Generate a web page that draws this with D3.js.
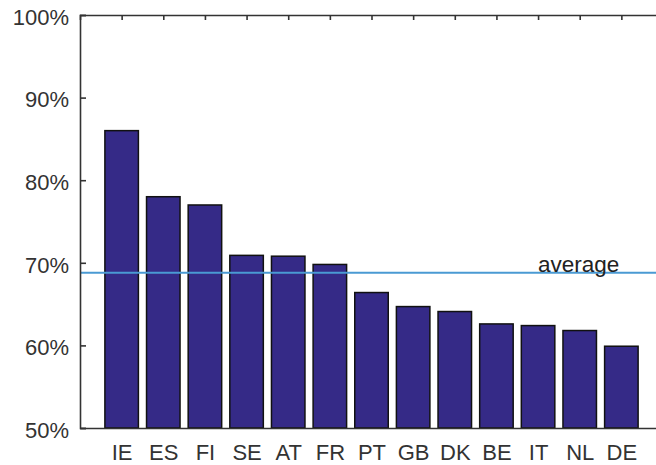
<!DOCTYPE html>
<html><head><meta charset="utf-8">
<script src="https://cdn.jsdelivr.net/npm/d3@7"></script>
<style>body{margin:0;background:#fff}svg{display:block}text{font-family:"Liberation Sans",Arial,sans-serif}</style>
</head><body><svg id="c" width="656" height="465"></svg>
<script>
const categories = ["IE","ES","FI","SE","AT","FR","PT","GB","DK","BE","IT","NL","DE"];
const values = [86.0, 78.0, 77.0, 70.9, 70.8, 69.8, 66.4, 64.7, 64.1, 62.6, 62.4, 61.8, 59.9];
const averageValue = 68.8;
const averageLabel = "average";
const yTicks = [50, 60, 70, 80, 90, 100];

(function () {
const svg = d3.select("#c");
const mLeft = 80, mTop = 15, mBottom = 428, mRight = 663;
const x = d3.scaleLinear().domain([0, categories.length + 1]).range([mLeft, mRight]);
const y = d3.scaleLinear().domain([50, 100]).range([mBottom, mTop]);
const barW = 33.5;
const barColor = "#352a87";
const axisColor = "#333";

// bars
svg.append("g").selectAll("rect").data(values).join("rect")
  .attr("x", (d, i) => x(i + 1) - barW / 2)
  .attr("y", d => y(d))
  .attr("width", barW)
  .attr("height", d => y(50) - y(d))
  .attr("fill", barColor)
  .attr("stroke", "#111")
  .attr("stroke-width", 1.5);

// average line
svg.append("line")
  .attr("x1", mLeft).attr("x2", mRight)
  .attr("y1", y(averageValue)).attr("y2", y(averageValue))
  .attr("stroke", "#4a9ad3").attr("stroke-width", 2);
svg.append("text")
  .attr("x", x(11.0)).attr("y", y(averageValue) - 0.5)
  .attr("font-size", 22.5).attr("fill", "#222")
  .text(averageLabel);

// left axis
const yAxis = d3.axisLeft(y).tickValues(yTicks).tickSize(-6).tickPadding(11)
  .tickFormat(d => d + "%");
const gy = svg.append("g").attr("transform", `translate(${mLeft},0)`).call(yAxis);
gy.select(".domain").attr("stroke", axisColor).attr("stroke-width", 1.6);
gy.selectAll(".tick line").attr("stroke", axisColor).attr("stroke-width", 1.6);
gy.selectAll(".tick text").attr("font-size", 22).attr("fill", "#333").attr("dy", "0.42em")
  .style("font-family", '"Liberation Sans",Arial,sans-serif');

// top axis
const band = categories.map((c, i) => i + 1);
const xTop = d3.axisTop(x).tickValues(band).tickSize(-5).tickFormat("");
const gt = svg.append("g").attr("transform", `translate(0,${mTop})`).call(xTop);
gt.select(".domain").attr("stroke", axisColor).attr("stroke-width", 1.6);
gt.selectAll(".tick line").attr("stroke", axisColor).attr("stroke-width", 1.6);

// bottom axis
const xBot = d3.axisBottom(x).tickValues(band).tickSize(0).tickPadding(16)
  .tickFormat((d) => categories[d - 1]);
const gb = svg.append("g").attr("transform", `translate(0,${mBottom})`).call(xBot);
gb.select(".domain").attr("stroke", axisColor).attr("stroke-width", 1.6);
gb.selectAll(".tick text").attr("font-size", 22).attr("fill", "#333")
  .style("font-family", '"Liberation Sans",Arial,sans-serif');
})();
</script></body></html>
